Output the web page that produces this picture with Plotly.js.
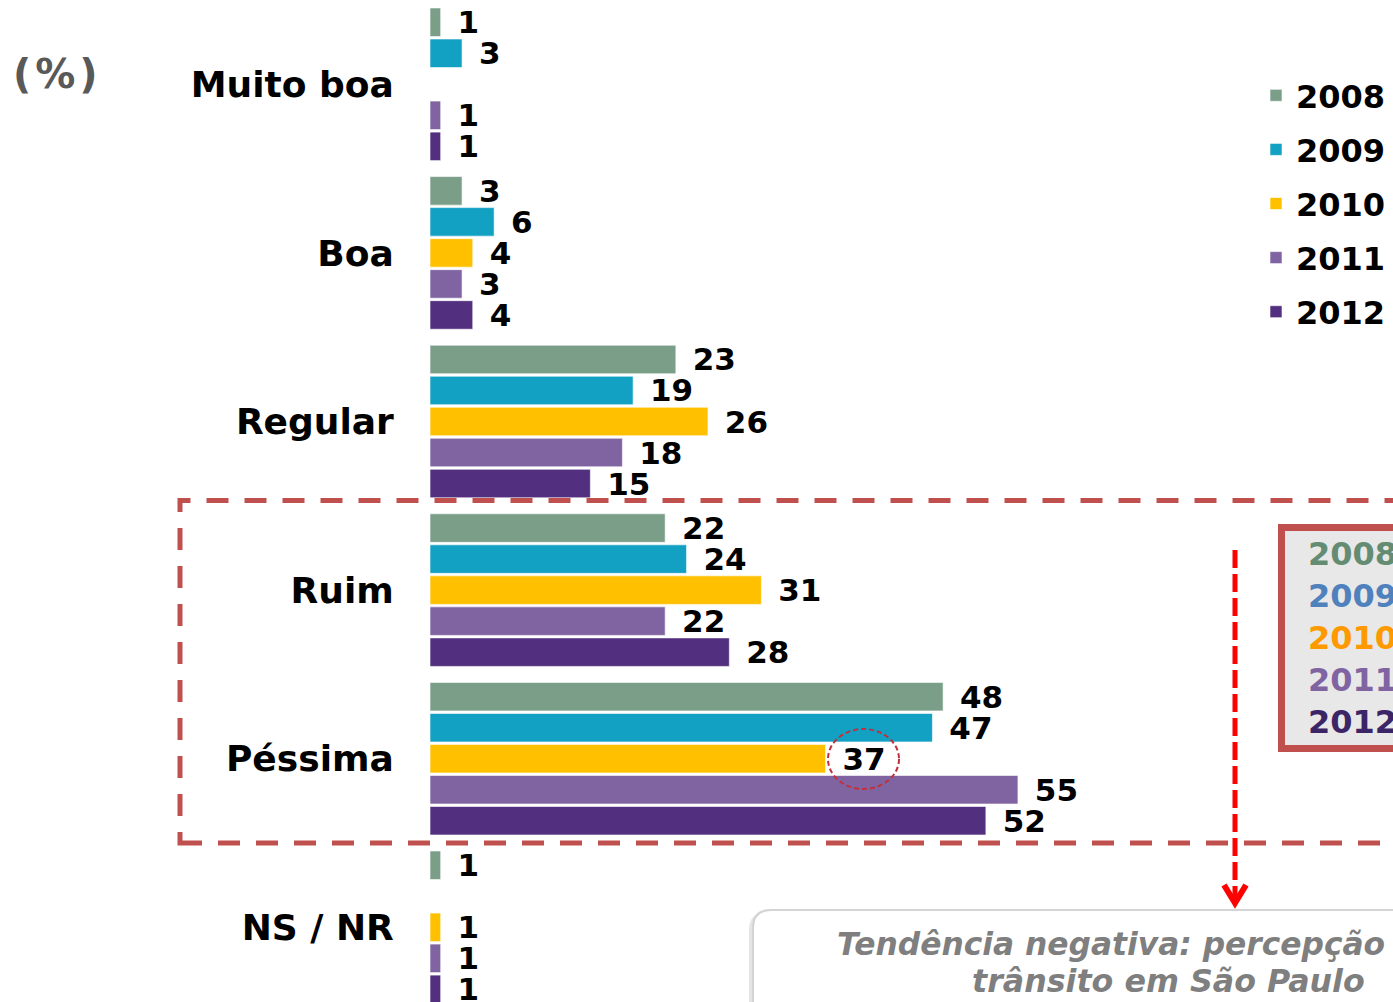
<!DOCTYPE html>
<html>
<head>
<meta charset="utf-8">
<script src="https://cdn.plot.ly/plotly-3.0.1.min.js"></script>
<style>
html,body{margin:0;padding:0;background:#fff;}
#chart{width:1393px;height:1002px;}
</style>
</head>
<body>
<div id="chart"></div>
<script>
// ---- data ----
const categories = ['Muito boa', 'Boa', 'Regular', 'Ruim', 'Péssima', 'NS / NR'];
const years = ['2008', '2009', '2010', '2011', '2012'];
const v2008 = [1, 3, 23, 22, 48, 1];
const v2009 = [3, 6, 19, 24, 47, null];
const v2010 = [null, 4, 26, 31, 37, 1];
const v2011 = [1, 3, 18, 22, 55, 1];
const v2012 = [1, 4, 15, 28, 52, 1];
const boxYears = ['2008', '2009', '2010', '2011', '2012'];
const noteLine1 = 'Tendência negativa: percepção';
const noteLine2 = 'trânsito em São Paulo';

// ---- styling ----
const barColors = ['#7A9E88', '#12A0C3', '#FFC000', '#8064A2', '#52307F'];
const boxColors = ['#648C73', '#4F81BD', '#FF9900', '#8064A2', '#3B2566'];
const series = [v2008, v2009, v2010, v2011, v2012];
const FONT = 'DejaVu Sans, Verdana, sans-serif';

const W = 1393, H = 1002, L = 430, R = 0;
const px = x => (x - L) / (W - L - R);
const py = y => 1 - y / H;

const traces = series.map((vals, i) => ({
  type: 'bar',
  orientation: 'h',
  name: years[i],
  legendgroup: years[i],
  y: categories,
  x: vals,
  marker: {color: barColors[i], line: {color: 'rgba(255,255,255,0.6)', width: 1}},
  text: vals.map(v => v == null ? '' : '\u00a0\u200a' + v),
  textposition: 'outside',
  constraintext: 'none',
  cliponaxis: false,
  textfont: {family: FONT, size: 31, color: '#000', weight: 'bold'},
  hoverinfo: 'skip'
}));

const shapes = [
  // dashed highlight rectangle around Ruim / Péssima
  {type: 'rect', xref: 'paper', yref: 'paper',
   x0: px(180), x1: px(1420), y0: py(843), y1: py(500.5),
   line: {color: '#C0504D', width: 5, dash: '22px,16px'}, fillcolor: 'rgba(0,0,0,0)', layer: 'above'},
  // small dashed circle around 37
  {type: 'circle', xref: 'paper', yref: 'paper',
   x0: px(828), x1: px(899), y0: py(789), y1: py(729),
   line: {color: '#C0303C', width: 2, dash: '5px,3px'}, fillcolor: 'rgba(0,0,0,0)', layer: 'above'},
  // vertical red dashed arrow
  {type: 'line', xref: 'paper', yref: 'paper',
   x0: px(1235), x1: px(1235), y0: py(550), y1: py(898),
   line: {color: '#FF0000', width: 5, dash: '18px,6px'}},
  {type: 'path', xref: 'paper', yref: 'paper',
   path: `M ${px(1224)},${py(885)} L ${px(1235)},${py(903)} L ${px(1246)},${py(885)}`,
   line: {color: '#FF0000', width: 6}, fillcolor: 'rgba(0,0,0,0)'},
  // right-side boxed years
  {type: 'rect', xref: 'paper', yref: 'paper',
   x0: px(1281.5), x1: px(1430), y0: py(748.5), y1: py(527.5),
   line: {color: '#C0504D', width: 7}, fillcolor: '#E8E8E8'},
  // note box shadow
  {type: 'path', xref: 'paper', yref: 'paper',
   path: `M ${px(749)},${py(1020)} L ${px(749)},${py(930)} Q ${px(749)},${py(912)} ${px(767)},${py(912)} L ${px(1420)},${py(912)} L ${px(1420)},${py(1020)} Z`,
   line: {color: 'rgba(0,0,0,0)', width: 0}, fillcolor: 'rgba(0,0,0,0.10)'},
  // note box
  {type: 'path', xref: 'paper', yref: 'paper',
   path: `M ${px(753)},${py(1020)} L ${px(753)},${py(928)} Q ${px(753)},${py(910)} ${px(771)},${py(910)} L ${px(1420)},${py(910)} L ${px(1420)},${py(1020)} Z`,
   line: {color: '#D4D4D4', width: 2}, fillcolor: '#FFFFFF'}
];

const annotations = [
  {xref: 'paper', yref: 'paper', x: px(11), y: py(74), xanchor: 'left', yanchor: 'middle',
   text: '(\u200a%\u200a)', showarrow: false, font: {family: FONT, size: 40, color: '#595959', weight: 'bold'}},
  {xref: 'paper', yref: 'paper', x: px(835), y: py(944), xanchor: 'left', yanchor: 'middle',
   text: '<i>' + noteLine1 + '</i>', showarrow: false,
   font: {family: FONT, size: 31.3, color: '#7F7F7F', weight: 'bold', style: 'italic'}},
  {xref: 'paper', yref: 'paper', x: px(970), y: py(981), xanchor: 'left', yanchor: 'middle',
   text: '<i>' + noteLine2 + '</i>', showarrow: false,
   font: {family: FONT, size: 31.7, color: '#7F7F7F', weight: 'bold', style: 'italic'}}
];
boxYears.forEach((yr, i) => {
  annotations.push({xref: 'paper', yref: 'paper', x: px(1306), y: py(554 + i * 42),
    xanchor: 'left', yanchor: 'middle', text: yr, showarrow: false,
    font: {family: FONT, size: 32, color: boxColors[i], weight: 'bold'}});
});

const layout = {
  width: W, height: H,
  margin: {l: L, r: R, t: 0, b: 0, pad: 0},
  paper_bgcolor: '#fff', plot_bgcolor: '#fff',
  barmode: 'group', bargap: 0.08, bargroupgap: 0.08,
  showlegend: true,
  legend: {x: px(1256), y: py(68), xanchor: 'left', yanchor: 'top',
    bgcolor: 'rgba(0,0,0,0)', traceorder: 'grouped', tracegroupgap: 9.5,
    font: {family: FONT, size: 32, color: '#000', weight: 'bold'}},
  xaxis: {visible: false, range: [0, (W - L - R) / 10.69], fixedrange: true},
  yaxis: {type: 'category', range: [5.443, -0.5], autorange: false,
    showgrid: false, zeroline: false, showline: false,
    ticks: 'outside', ticklen: 28, tickcolor: 'rgba(0,0,0,0)',
    tickfont: {family: FONT, size: 36, color: '#000', weight: 'bold'}},
  shapes: shapes,
  annotations: annotations
};

Plotly.newPlot('chart', traces, layout, {displayModeBar: false, staticPlot: true});
</script>
</body>
</html>
